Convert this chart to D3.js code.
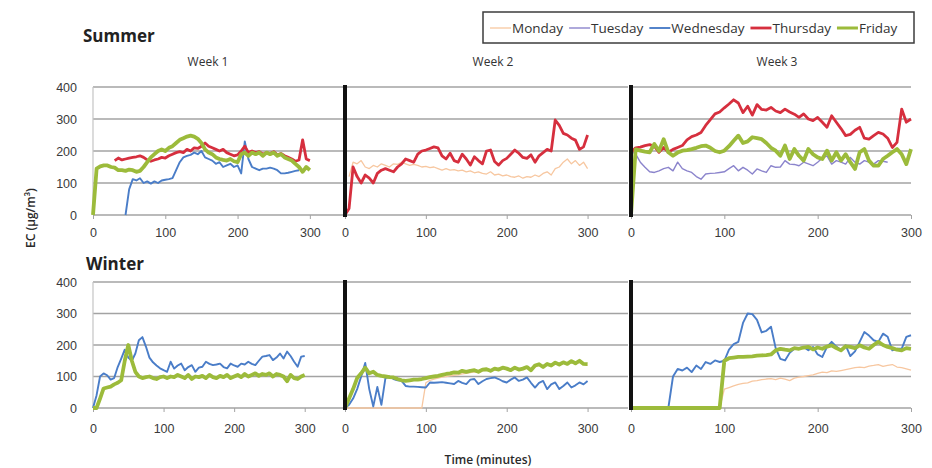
<!DOCTYPE html>
<html>
<head>
<meta charset="utf-8">
<script src="https://cdn.jsdelivr.net/npm/d3@7"></script>
<style>
    body { margin: 0; background: #fff; }
    svg { font-family: 'Open Sans', Lato, sans-serif; }
    .tick text { fill: #3a3a3a; font-size: 12.5px; }
    .season-title { font-size: 17px; font-weight: 700; fill: #222; }
    .week-title { font-size: 12px; fill: #333; text-anchor: middle; }
    .axis-label { font-size: 12px; font-weight: 600; fill: #2a2a2a; text-anchor: middle; }
    .legend text { font-size: 13.5px; fill: #333; }
</style>
</head>
<body>
<div id="ec-chart"></div>
<script>

// Sampling times (minutes), same for every logger
var minutes = [0, 5, 10, 15, 20, 25, 30, 35, 40, 45, 50, 55, 60, 65, 70, 75, 80, 85, 90, 95,
    100, 105, 110, 115, 120, 125, 130, 135, 140, 145, 150, 155, 160, 165, 170, 175, 180, 185, 190, 195,
    200, 205, 210, 215, 220, 225, 230, 235, 240, 245, 250, 255, 260, 265, 270, 275, 280, 285, 290, 295, 300];

var dayNames = ['Monday', 'Tuesday', 'Wednesday', 'Thursday', 'Friday'];
var seasonNames = ['Summer', 'Winter'];
var weekNames = ['Week 1', 'Week 2', 'Week 3'];
var yTicks = [0, 100, 200, 300, 400];
var xTicks = [0, 100, 200, 300];

// EC (ug/m3), one value every 5 minutes, null = no reading
var summerW1Wed = [null, null, null, null, null, null, null, null, null, 0,
    80, 112, 108, 115, 100, 105, 98, 105, 100, 108,
    110, 112, 115, 140, 165, 180, 185, 188, 195, 190,
    200, 180, 175, 170, 160, 165, 150, 155, 160, 150,
    155, 130, 230, 175, 150, 145, 140, 145, 145, 148,
    145, 140, 130, 130, 132, 135, 138, 140];
var summerW1Thu = [null, null, null, null, null, null, 170, 178, 172, 175,
    178, 180, 182, 185, 180, 172, 168, 172, 175, 180,
    178, 185, 190, 195, 198, 195, 205, 200, 210, 208,
    215, 225, 215, 210, 205, 200, 205, 195, 190, 185,
    188, 200, 215, 195, 200, 195, 198, 190, 195, 192,
    198, 188, 192, 185, 180, 175, 168, 172, 235, 175,
    170];
var summerW1Fri = [0, 145, 152, 155, 155, 150, 148, 140, 140, 138,
    142, 140, 135, 138, 150, 165, 180, 190, 200, 205,
    200, 210, 215, 225, 235, 240, 245, 248, 245, 238,
    225, 205, 195, 190, 180, 175, 172, 170, 175, 168,
    165, 190, 195, 185, 195, 190, 195, 185, 195, 190,
    195, 185, 190, 180, 175, 170, 160, 150, 135, 150,
    140];

var summerW2Mon = [null, 120, 165, 160, 170, 150, 145, 155, 150, 160,
    155, 150, 160, 158, 165, 160, 155, 158, 155, 150,
    152, 148, 150, 145, 140, 145, 140, 142, 138, 140,
    135, 138, 132, 135, 130, 128, 135, 125, 128, 122,
    125, 120, 118, 122, 115, 120, 118, 125, 120, 130,
    135, 125, 145, 150, 165, 175, 160, 170, 155, 165,
    145];
var summerW2Thu = [0, 20, 150, 120, 100, 125, 115, 100, 130, 140,
    145, 140, 135, 150, 160, 175, 170, 165, 190, 200,
    203, 208, 213, 210, 185, 175, 193, 170, 165, 190,
    175, 156, 182, 170, 160, 200, 203, 167, 156, 170,
    177, 190, 203, 193, 180, 177, 188, 165, 185, 195,
    205, 200, 297, 280, 255, 250, 240, 234, 205, 213,
    250];

var summerW3Tue = [200, 190, 165, 149, 135, 133, 138, 145, 149, 138,
    165, 145, 138, 133, 120, 112, 128, 130, 131, 133,
    135, 145, 154, 138, 149, 140, 128, 144, 138, 133,
    154, 149, 150, 170, 159, 158, 154, 165, 160, 154,
    165, 178, 185, 159, 170, 165, 159, 180, 165, 159,
    170, 165, 159, 170, 168, 165];
var summerW3Thu = [195, 210, 212, 217, 220, 215, 196, 211, 196, 205,
    211, 217, 235, 245, 250, 258, 280, 298, 316, 322,
    335, 347, 360, 350, 320, 340, 312, 345, 330, 328,
    336, 325, 320, 331, 322, 315, 305, 316, 300, 295,
    305, 290, 274, 310, 290, 270, 248, 252, 265, 274,
    240, 237, 248, 258, 253, 240, 211, 227, 331, 290,
    300];
var summerW3Fri = [0, 205, 201, 198, 196, 222, 200, 237, 196, 185,
    195, 201, 203, 206, 210, 215, 217, 210, 200, 196,
    201, 215, 232, 248, 225, 230, 243, 240, 237, 225,
    210, 201, 185, 217, 175, 206, 185, 170, 206, 190,
    180, 175, 201, 170, 196, 170, 190, 165, 144, 196,
    206, 170, 154, 154, 175, 185, 196, 206, 190, 159,
    206];

var winterW1Wed = [0, 40, 100, 110, 104, 90, 95, 130, 157, 185,
    160, 150, 173, 215, 225, 195, 160, 145, 135, 126,
    120, 115, 147, 125, 135, 141, 120, 130, 136, 115,
    128, 131, 147, 140, 136, 138, 141, 130, 126, 141,
    135, 131, 141, 138, 147, 140, 136, 150, 163, 165,
    168, 152, 160, 173, 157, 179, 165, 147, 131, 163,
    165];
var winterW1Fri = [0, 0, 30, 62, 65, 68, 75, 80, 88, 150,
    200, 150, 115, 100, 95, 98, 100, 95, 92, 98,
    100, 95, 100, 98, 105, 100, 95, 105, 92, 100,
    98, 102, 95, 105, 98, 95, 102, 98, 105, 95,
    100, 105, 98, 108, 100, 105, 110, 102, 108, 105,
    110, 100, 108, 105, 100, 85, 105, 95, 92, 100,
    105];

var winterW2Mon = [0, 0, 0, 0, 0, 0, 0, 0, 0, 0,
    0, 0, 0, 0, 0, 0, 0, 0, 0, 0,
    80, 88, 92, 95, 98, 100, 102, 104, 105, 108,
    110, 112, 115, 112, 118, 120, 115, 122, 120, 125,
    122, 118, 125, 120, 122, 128, 118, 130, 135, 128,
    138, 132, 140, 135, 142, 138, 145, 140, 145, 138,
    135];
var winterW2Wed = [0, 10, 30, 60, 100, 143, 60, 5, 67, 10,
    95, 100, 92, 88, 86, 70, 68, 68, 67, 66,
    65, 81, 80, 81, 82, 80, 78, 76, 86, 80,
    76, 90, 92, 76, 85, 92, 95, 97, 92, 85,
    81, 90, 97, 86, 90, 97, 80, 65, 80, 86,
    60, 75, 81, 60, 70, 81, 65, 72, 81, 75,
    86];
var winterW2Fri = [0, 30, 60, 95, 110, 128, 110, 115, 105, 102,
    100, 98, 97, 92, 88, 86, 88, 90, 90, 92,
    95, 98, 100, 102, 105, 108, 110, 113, 112, 118,
    115, 118, 120, 115, 122, 123, 118, 125, 122, 128,
    125, 120, 128, 122, 125, 130, 120, 135, 139, 130,
    140, 135, 144, 138, 145, 140, 149, 142, 150, 140,
    139];

var winterW3Mon = [0, 0, 0, 0, 0, 0, 0, 0, 0, 0,
    0, 0, 0, 0, 0, 0, 0, 0, 0, 0,
    60, 65, 70, 75, 78, 80, 85, 87, 90, 92,
    93, 90, 95, 92, 87, 95, 98, 100, 103, 105,
    110, 114, 112, 118, 116, 119, 122, 125, 128, 130,
    128, 133, 135, 138, 132, 135, 138, 130, 128, 124,
    120];
var winterW3Wed = [0, 0, 0, 0, 0, 0, 0, 0, 0, 100,
    124, 119, 128, 114, 135, 124, 146, 140, 151, 146,
    150, 185, 203, 210, 270, 300, 298, 280, 240, 245,
    258, 190, 156, 151, 175, 188, 190, 194, 183, 194,
    170, 162, 194, 210, 195, 183, 199, 165, 180, 210,
    241, 230, 215, 210, 236, 226, 183, 188, 188, 226,
    231];
var winterW3Fri = [0, 0, 0, 0, 0, 0, 0, 0, 0, 0,
    0, 0, 0, 0, 0, 0, 0, 0, 0, 0,
    150, 158, 160, 162, 162, 163, 164, 166, 167, 168,
    170, 183, 188, 185, 183, 190, 188, 192, 194, 186,
    192, 188, 195, 199, 190, 183, 196, 194, 190, 199,
    192, 188, 200, 210, 200, 194, 190, 185, 183, 190,
    188];

// Which loggers appear in which panel (day index into dayNames)
var panels = [
    { row: 0, col: 0, series: [[2, summerW1Wed], [3, summerW1Thu], [4, summerW1Fri]] },
    { row: 0, col: 1, series: [[0, summerW2Mon], [3, summerW2Thu]] },
    { row: 0, col: 2, series: [[1, summerW3Tue], [3, summerW3Thu], [4, summerW3Fri]] },
    { row: 1, col: 0, series: [[2, winterW1Wed], [4, winterW1Fri]] },
    { row: 1, col: 1, series: [[0, winterW2Mon], [2, winterW2Wed], [4, winterW2Fri]] },
    { row: 1, col: 2, series: [[0, winterW3Mon], [2, winterW3Wed], [4, winterW3Fri]] }
];


/**
 * ECPanels
 * @param _parentElement -- selector of the element to draw in
 */
ECPanels = function(_parentElement) {
    this.parentElement = _parentElement;
    this.initVisualization();
}

ECPanels.prototype.initVisualization = function() {
    var vis = this;

    vis.width = 932;
    vis.height = 468;

    vis.dayColor = ['#f7c7a0', '#8b84cc', '#4a7dc8', '#d62f3e', '#9cbb3b'];
    vis.dayStroke = [1.3, 1.4, 1.9, 2.8, 3.8];

    // column = week, row = season; scale end differs a little per row
    vis.cols = [
        { left: 93, gridRight: 346, maxMin: 350, right: [346, 340] },
        { left: 345, gridRight: 628, maxMin: 350, right: [628, 628] },
        { left: 631, gridRight: 911, maxMin: 300, right: [911, 911] }
    ];
    vis.rows = [
        { top: 87, bottom: 215, titleY: 42, pad: 9 },
        { top: 282, bottom: 408, titleY: 270, pad: 12 }
    ];

    vis.svg = d3.select(vis.parentElement)
        .append('svg')
        .attr('width', vis.width)
        .attr('height', vis.height);

    vis.svg.append('rect')
        .attr('width', vis.width)
        .attr('height', vis.height)
        .attr('fill', '#fff');

    // Season titles
    vis.svg.selectAll('.season-title')
        .data(seasonNames)
        .enter()
        .append('text')
        .attr('class', 'season-title')
        .attr('x', function(d, i) { return i === 0 ? 83 : 86; })
        .attr('y', function(d, i) { return vis.rows[i].titleY; })
        .text(function(d) { return d; });

    // Week titles
    vis.svg.selectAll('.week-title')
        .data(weekNames)
        .enter()
        .append('text')
        .attr('class', 'week-title')
        .attr('x', function(d, i) { return [208, 493, 777][i]; })
        .attr('y', 66)
        .text(function(d) { return d; });

    panels.forEach(function(p) {
        vis.drawPanel(p);
    });

    // Axis labels
    vis.svg.append('text')
        .attr('class', 'axis-label')
        .attr('transform', 'translate(35,218) rotate(-90)')
        .text('EC (\u03bcg/m\u00b3)');

    vis.svg.append('text')
        .attr('class', 'axis-label')
        .attr('x', 488)
        .attr('y', 464)
        .text('Time (minutes)');

    vis.drawLegend();
}

ECPanels.prototype.drawPanel = function(p) {
    var vis = this;
    var col = vis.cols[p.col];
    var row = vis.rows[p.row];

    var x = d3.scaleLinear()
        .domain([0, col.maxMin])
        .range([col.left, col.right[p.row]]);
    var y = d3.scaleLinear()
        .domain([0, 400])
        .range([row.bottom, row.top]);

    var g = vis.svg.append('g');

    // Gridlines
    g.selectAll('.grid')
        .data(yTicks)
        .enter()
        .append('line')
        .attr('x1', col.left)
        .attr('x2', col.gridRight)
        .attr('y1', function(d) { return y(d); })
        .attr('y2', function(d) { return y(d); })
        .attr('stroke', '#a3a3a3')
        .attr('stroke-width', 1.3);

    // x axis ticks and labels
    var xAxis = d3.axisBottom(x)
        .tickValues(xTicks)
        .tickSize(4)
        .tickPadding(row.pad)
        .tickFormat(d3.format('d'));

    var xg = g.append('g')
        .attr('transform', 'translate(0,' + row.bottom + ')')
        .call(xAxis);
    xg.select('.domain').remove();
    xg.selectAll('.tick line').attr('stroke', '#a3a3a3');

    if (p.col === 0) {
        var yAxis = d3.axisLeft(y)
            .tickValues(yTicks)
            .tickSize(0)
            .tickPadding(16);
        var yg = g.append('g')
            .attr('transform', 'translate(' + col.left + ',0)')
            .call(yAxis);
        yg.select('.domain').remove();

        g.append('line')
            .attr('x1', col.left).attr('x2', col.left)
            .attr('y1', row.top).attr('y2', row.bottom)
            .attr('stroke', '#c4c4c4')
            .attr('stroke-width', 1.2);
    }

    // Lines
    var line = d3.line()
        .defined(function(d) { return d[1] != null; })
        .x(function(d) { return x(d[0]); })
        .y(function(d) { return y(d[1]); });

    p.series.forEach(function(s) {
        var pts = minutes.map(function(m, i) { return [m, s[1][i]]; });
        g.append('path')
            .datum(pts)
            .attr('fill', 'none')
            .attr('stroke', vis.dayColor[s[0]])
            .attr('stroke-width', vis.dayStroke[s[0]])
            .attr('stroke-linejoin', 'round')
            .attr('d', line);
    });

    // Heavy separator bar on weeks 2 and 3
    if (p.col > 0) {
        g.append('line')
            .attr('x1', col.left).attr('x2', col.left)
            .attr('y1', row.top - 2).attr('y2', row.bottom + 2)
            .attr('stroke', '#111')
            .attr('stroke-width', 4);
    }
}

ECPanels.prototype.drawLegend = function() {
    var vis = this;

    var legend = vis.svg.append('g')
        .attr('class', 'legend');

    legend.append('rect')
        .attr('x', 483)
        .attr('y', 12)
        .attr('width', 431)
        .attr('height', 31)
        .attr('fill', '#fff')
        .attr('stroke', '#3c3c3c')
        .attr('stroke-width', 1.5);

    var cx = 490;
    dayNames.forEach(function(name, i) {
        legend.append('line')
            .attr('x1', cx).attr('x2', cx + 21)
            .attr('y1', 28).attr('y2', 28)
            .attr('stroke', vis.dayColor[i])
            .attr('stroke-width', Math.min(vis.dayStroke[i], 3));
        var t = legend.append('text')
            .attr('x', cx + 22)
            .attr('y', 28)
            .attr('dy', '0.35em')
            .text(name);
        cx += 22 + t.node().getComputedTextLength() + 6;
    });
}

new ECPanels('#ec-chart');

</script>
</body>
</html>
